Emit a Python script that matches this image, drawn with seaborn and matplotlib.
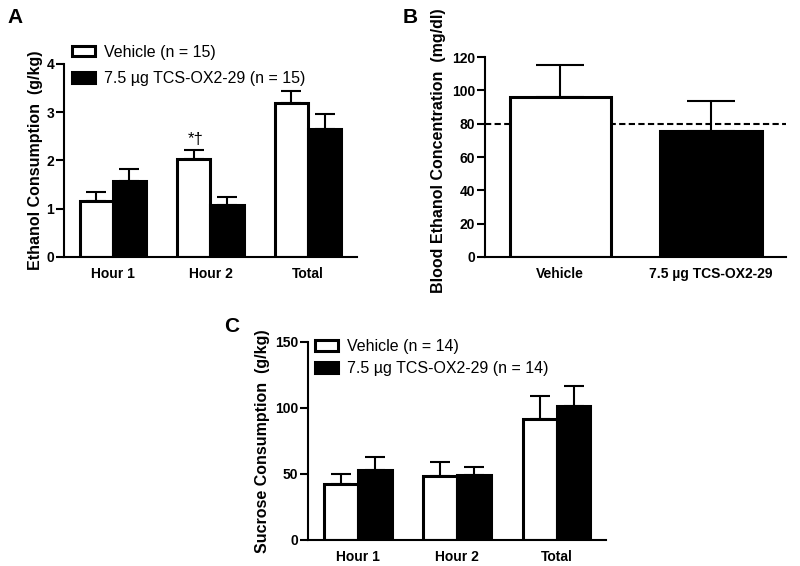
import pandas as pd
import matplotlib
matplotlib.use('Agg')
import matplotlib.pyplot as plt
import seaborn as sns

# data (mean and upper SEM)
periods = ['Hour 1', 'Hour 2', 'Total']
groups_a = ['Vehicle (n = 15)', '7.5 µg TCS-OX2-29 (n = 15)']
ethanol_vehicle = [1.17, 2.02, 3.19]
ethanol_vehicle_sem = [0.18, 0.19, 0.25]
ethanol_drug = [1.57, 1.08, 2.65]
ethanol_drug_sem = [0.25, 0.17, 0.32]

bec_groups = ['Vehicle', '7.5 µg TCS-OX2-29']
bec_mean = [96.3, 75.7]
bec_sem = [19.0, 18.2]
bec_threshold = 80

groups_c = ['Vehicle (n = 14)', '7.5 µg TCS-OX2-29 (n = 14)']
sucrose_vehicle = [42.6, 48.4, 91.3]
sucrose_vehicle_sem = [7.6, 10.4, 17.4]
sucrose_drug = [52.7, 49.2, 101.6]
sucrose_drug_sem = [10.3, 6.2, 15.1]

sns.set_style('ticks', {'axes.edgecolor': 'black', 'text.color': 'black',
                        'xtick.color': 'black', 'ytick.color': 'black',
                        'axes.labelcolor': 'black'})
plt.rcParams['font.family'] = ['Liberation Sans', 'DejaVu Sans']

EDGE = 2.2
LW = 1.5


def style_axes(ax, ylabel):
    sns.despine(ax=ax)
    for s in ['left', 'bottom']:
        ax.spines[s].set_linewidth(LW)
    ax.tick_params(axis='y', length=6, width=LW, pad=1, labelsize=10)
    ax.tick_params(axis='x', length=0, pad=7, labelsize=10)
    for t in ax.get_xticklabels() + ax.get_yticklabels():
        t.set_fontweight('bold')
    ax.set_xlabel('')
    ax.set_ylabel(ylabel, fontsize=11.5, fontweight='bold')


def add_errors(ax, sems, capsize):
    bars = [b for c in ax.containers for b in c]
    xs = [b.get_x() + b.get_width() / 2 for b in bars]
    tops = [b.get_height() for b in bars]
    ax.errorbar(xs, tops, yerr=[[0] * len(sems), sems], fmt='none',
                ecolor='black', elinewidth=LW, capsize=capsize, capthick=LW, zorder=1)
    return xs, tops


fig = plt.figure(figsize=(8, 5.66), dpi=100)

# ---- panel A
ax_a = fig.add_axes([0.08, 0.546, 0.366, 0.341])
df_a = pd.DataFrame({
    'period': periods * 2,
    'group': [groups_a[0]] * 3 + [groups_a[1]] * 3,
    'value': ethanol_vehicle + ethanol_drug,
})
sns.barplot(data=df_a, x='period', y='value', hue='group', palette=['white', 'black'],
            edgecolor='black', linewidth=EDGE, width=0.68, errorbar=None, ax=ax_a)
xs, tops = add_errors(ax_a, ethanol_vehicle_sem + ethanol_drug_sem, 7.5)
ax_a.text(xs[1] + 0.02, tops[1] + ethanol_vehicle_sem[1] + 0.07, '*†',
          ha='center', va='bottom', fontsize=12)
ax_a.set_ylim(0, 4)
ax_a.set_yticks([0, 1, 2, 3, 4])
ax_a.set_xlim(-0.5, 2.5)
style_axes(ax_a, 'Ethanol Consumption  (g/kg)')
ax_a.yaxis.set_label_coords(-0.072, 0.5)
ax_a.legend(loc='upper left', bbox_to_anchor=(0.027, 1.10), frameon=False,
            fontsize=11.5, borderpad=0, borderaxespad=0, handlelength=1.45,
            handleheight=0.65, handletextpad=0.55, labelspacing=0.72)

# ---- panel B
ax_b = fig.add_axes([0.606, 0.546, 0.377, 0.353])
df_b = pd.DataFrame({'group': bec_groups, 'value': bec_mean})
sns.barplot(data=df_b, x='group', y='value', hue='group', palette=['white', 'black'],
            edgecolor='black', linewidth=EDGE, width=0.67, errorbar=None,
            legend=False, ax=ax_b)
add_errors(ax_b, bec_sem, 17)
ax_b.axhline(bec_threshold, color='black', lw=LW, linestyle=(0, (3, 1.6)), zorder=0)
ax_b.set_ylim(0, 120)
ax_b.set_yticks(range(0, 121, 20))
ax_b.set_xlim(-0.5, 1.5)
style_axes(ax_b, 'Blood Ethanol Concentration  (mg/dl)')
ax_b.yaxis.set_label_coords(-0.129, 0.53)

# ---- panel C
ax_c = fig.add_axes([0.385, 0.046, 0.373, 0.350])
df_c = pd.DataFrame({
    'period': periods * 2,
    'group': [groups_c[0]] * 3 + [groups_c[1]] * 3,
    'value': sucrose_vehicle + sucrose_drug,
})
sns.barplot(data=df_c, x='period', y='value', hue='group', palette=['white', 'black'],
            edgecolor='black', linewidth=EDGE, width=0.68, errorbar=None, ax=ax_c)
add_errors(ax_c, sucrose_vehicle_sem + sucrose_drug_sem, 7.5)
ax_c.set_ylim(0, 150)
ax_c.set_yticks([0, 50, 100, 150])
ax_c.set_xlim(-0.5, 2.5)
style_axes(ax_c, 'Sucrose Consumption  (g/kg)')
ax_c.yaxis.set_label_coords(-0.128, 0.5)
ax_c.legend(loc='upper left', bbox_to_anchor=(0.022, 1.015), frameon=False,
            fontsize=11.5, borderpad=0, borderaxespad=0, handlelength=1.45,
            handleheight=0.65, handletextpad=0.55, labelspacing=0.45)

# panel letters
fig.text(7 / 800, 1 - 8 / 566, 'A', fontsize=15, fontweight='bold', va='top')
fig.text(403 / 800, 1 - 8 / 566, 'B', fontsize=15, fontweight='bold', va='top')
fig.text(224 / 800, 1 - 317 / 566, 'C', fontsize=15, fontweight='bold', va='top')

fig.savefig('out.png', dpi=100)
